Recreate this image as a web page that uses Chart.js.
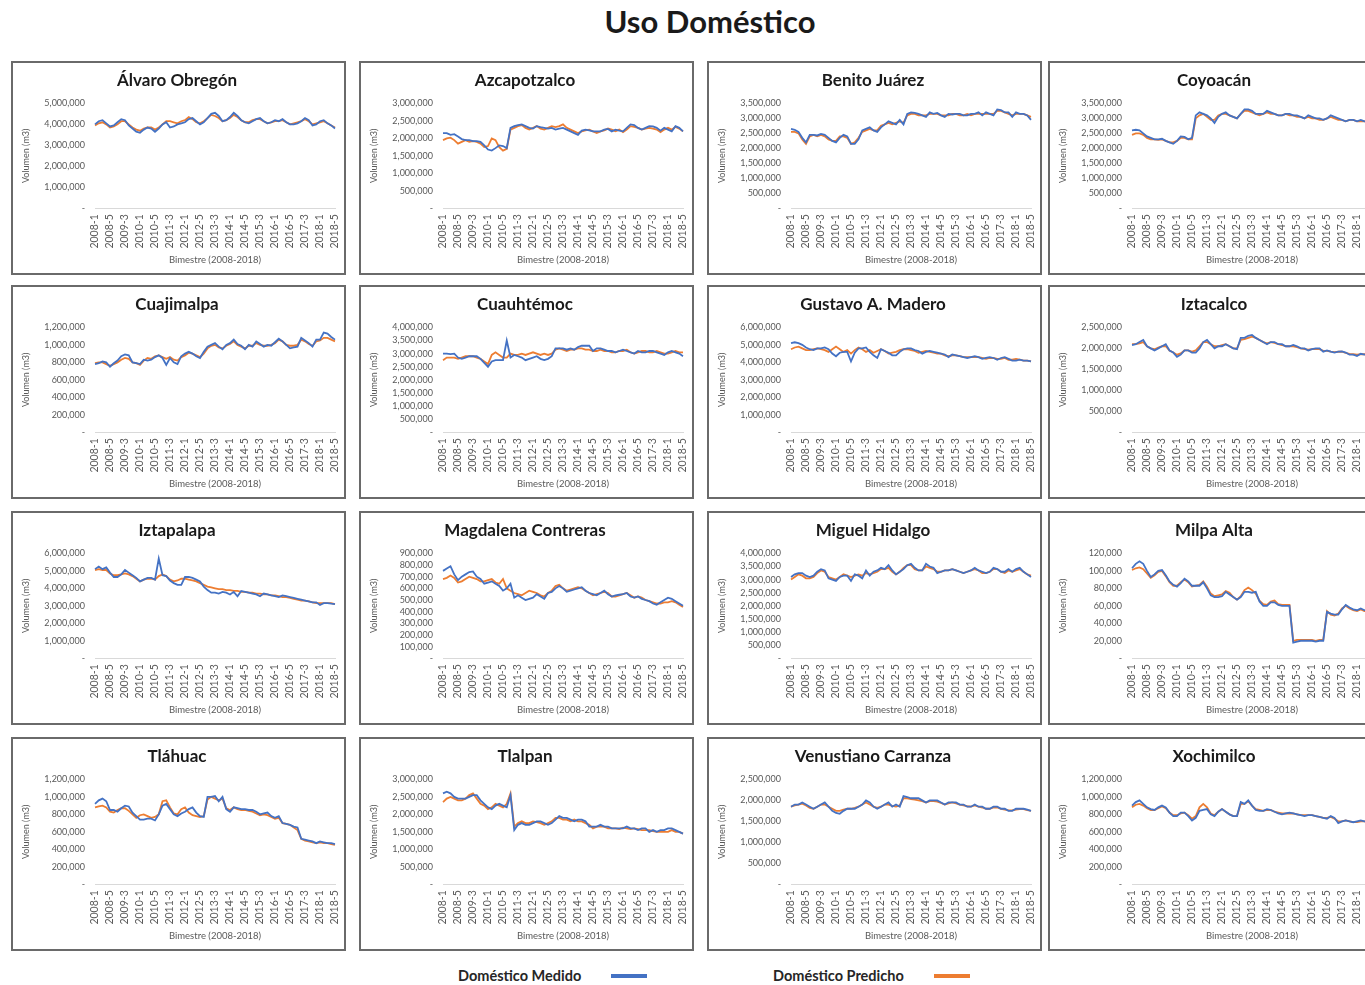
<!DOCTYPE html>
<html lang="es">
<head>
<meta charset="utf-8">
<title>Uso Doméstico</title>
<script src="https://cdn.jsdelivr.net/npm/chart.js@4.4.1/dist/chart.umd.min.js"></script>
<style>
  html, body { margin: 0; padding: 0; background: #fff; }
  body { width: 1365px; height: 985px; overflow: hidden; position: relative; font-family: Lato, "Liberation Sans", sans-serif; }
  #titulo { position: absolute; top: 3px; left: 0; width: 1420px; margin: 0; text-align: center; font-size: 31px; line-height: 36px; font-weight: 700; color: #1a1a1a; }
  .panel { position: absolute; width: 331px; height: 210px; border: 2px solid #6a6a6a; background: #fff; }
  .panel canvas { display: block; }
  .leyenda { position: absolute; top: 967px; font-size: 14.5px; line-height: 18px; font-weight: 700; color: #262626; }
  .muestra { position: absolute; top: 974px; width: 36px; height: 4px; }
</style>
</head>
<body>
<h1 id="titulo">Uso Doméstico</h1>
<div id="tablero"></div>
<div class="leyenda" style="left:458px;">Doméstico Medido</div>
<div class="muestra" style="left:611px;background:#4472C4;"></div>
<div class="leyenda" style="left:773px;">Doméstico Predicho</div>
<div class="muestra" style="left:934px;background:#ED7D31;"></div>

<script>
// Bimestres 2008-1 a 2018-5
const anios = [2008, 2009, 2010, 2011, 2012, 2013, 2014, 2015, 2016, 2017, 2018];
const bimestres = [1, 2, 3, 4, 5, 6];
const ultimoBimestre = '2018-5';

// Volúmenes de consumo doméstico por alcaldía, en miles de m3 (una fila por año)
const alvaroObregonMedido = [
  4000, 4150, 4200, 4050, 3900, 3950,
  4100, 4250, 4200, 3950, 3800, 3650,
  3600, 3750, 3850, 3800, 3650, 3800,
  4000, 4100, 3850, 3900, 4000, 4050,
  4100, 4250, 4300, 4150, 4000, 4100,
  4300, 4500, 4550, 4400, 4150, 4200,
  4350, 4550, 4400, 4200, 4100, 4050,
  4150, 4250, 4300, 4150, 4050, 4100,
  4200, 4150, 4250, 4100, 4000, 4000,
  4050, 4150, 4300, 4200, 3950, 4000,
  4150, 4200, 4050, 3950, 3800];
const alvaroObregonPredicho = [
  3950, 4050, 4100, 4000, 3850, 3900,
  4000, 4150, 4150, 4000, 3850, 3750,
  3700, 3800, 3850, 3850, 3750, 3850,
  4000, 4150, 4150, 4100, 4050, 4150,
  4200, 4350, 4250, 4100, 4050, 4150,
  4300, 4450, 4400, 4300, 4150, 4200,
  4300, 4450, 4350, 4200, 4100, 4100,
  4200, 4250, 4250, 4150, 4050, 4100,
  4150, 4150, 4200, 4100, 4000, 4050,
  4100, 4150, 4250, 4150, 4000, 4050,
  4100, 4150, 4050, 3950, 3850];

const azcapotzalcoMedido = [
  2150, 2150, 2100, 2120, 2050, 1980,
  1950, 1950, 1920, 1920, 1900, 1800,
  1680, 1650, 1720, 1800, 1780, 1720,
  2300, 2350, 2380, 2400, 2350, 2300,
  2280, 2350, 2320, 2300, 2280, 2300,
  2250, 2280, 2300, 2250, 2200, 2150,
  2100, 2220, 2250, 2230, 2200, 2200,
  2200, 2250, 2270, 2200, 2250, 2220,
  2200, 2300, 2400, 2380, 2300, 2250,
  2300, 2350, 2340, 2300, 2220, 2300,
  2250, 2200, 2350, 2300, 2200];
const azcapotzalcoPredicho = [
  1950, 2000, 2020, 1950, 1850, 1900,
  1950, 1900, 1920, 1900, 1850, 1750,
  1780, 2000, 1950, 1750, 1650, 1700,
  2250, 2300, 2350, 2380, 2300, 2250,
  2300, 2350, 2280, 2250, 2300, 2350,
  2320, 2350, 2400, 2300, 2250, 2200,
  2150, 2200, 2230, 2250, 2200, 2150,
  2200, 2230, 2280, 2250, 2200, 2250,
  2180, 2250, 2350, 2330, 2300, 2250,
  2280, 2300, 2280, 2250, 2180, 2250,
  2300, 2250, 2330, 2280, 2200];

const benitoJuarezMedido = [
  2650, 2620, 2550, 2350, 2200, 2450,
  2450, 2430, 2480, 2450, 2350, 2250,
  2200, 2350, 2450, 2400, 2150, 2150,
  2300, 2600, 2650, 2700, 2600, 2550,
  2700, 2800, 2900, 2850, 2800, 2950,
  2800, 3150, 3200, 3180, 3150, 3100,
  3050, 3200, 3150, 3180, 3100, 3050,
  3150, 3130, 3150, 3150, 3100, 3100,
  3150, 3150, 3200, 3100, 3200, 3150,
  3100, 3300, 3280, 3200, 3200, 3050,
  3200, 3150, 3150, 3100, 2950];
const benitoJuarezPredicho = [
  2550, 2550, 2500, 2300, 2150, 2400,
  2450, 2400, 2450, 2400, 2300, 2250,
  2250, 2400, 2400, 2350, 2150, 2200,
  2350, 2550, 2600, 2650, 2600, 2600,
  2750, 2800, 2850, 2800, 2850, 2900,
  2850, 3100, 3150, 3150, 3100, 3100,
  3100, 3150, 3150, 3150, 3100, 3100,
  3100, 3150, 3150, 3100, 3100, 3150,
  3100, 3150, 3150, 3150, 3150, 3150,
  3150, 3250, 3250, 3200, 3150, 3100,
  3150, 3150, 3150, 3100, 3050];

const coyoacanMedido = [
  2600, 2620, 2600, 2500, 2400, 2350,
  2300, 2300, 2320, 2250, 2200, 2150,
  2250, 2400, 2380, 2300, 2350, 3100,
  3200, 3150, 3100, 3000, 2850, 3050,
  3150, 3200, 3100, 3050, 3000, 3150,
  3300, 3300, 3250, 3150, 3150, 3150,
  3250, 3200, 3150, 3100, 3100, 3150,
  3150, 3100, 3100, 3050, 3000, 3100,
  3050, 3000, 3000, 2950, 3000, 3100,
  3050, 3000, 2950, 2900, 2950, 2950,
  2900, 2950, 2900, 2900, 2850];
const coyoacanPredicho = [
  2450, 2500, 2500, 2450, 2350, 2300,
  2300, 2280, 2300, 2250, 2200, 2200,
  2250, 2350, 2350, 2300, 2300, 3000,
  3100, 3150, 3050, 2950, 2950, 3100,
  3150, 3150, 3100, 3050, 3000, 3150,
  3250, 3250, 3200, 3150, 3100, 3150,
  3200, 3150, 3150, 3100, 3100, 3150,
  3100, 3100, 3050, 3050, 3000, 3050,
  3000, 3000, 2950, 2950, 3000, 3050,
  3000, 2950, 2950, 2900, 2950, 2950,
  2900, 2900, 2900, 2900, 2850];

const cuajimalpaMedido = [
  780, 790, 810, 800, 750, 790,
  820, 870, 890, 880, 800, 790,
  780, 830, 820, 830, 860, 880,
  850, 770, 850, 800, 780, 870,
  900, 920, 900, 870, 850, 920,
  980, 1000, 1020, 980, 950, 1000,
  1020, 1060, 1010, 990, 950, 1000,
  980, 1040, 1010, 980, 1000, 990,
  1030, 1070, 1040, 1000, 960, 970,
  980, 1080, 1050, 1020, 980, 1060,
  1060, 1140, 1130, 1090, 1060];
const cuajimalpaPredicho = [
  790, 800, 800, 780, 760, 780,
  800, 830, 850, 840, 800, 790,
  770, 820, 850, 840, 870, 880,
  860, 840, 860, 830, 820, 860,
  880, 910, 900, 880, 860, 900,
  960, 990, 1000, 970, 960, 990,
  1010, 1040, 1000, 980, 960, 990,
  990, 1020, 1000, 990, 990, 1000,
  1020, 1060, 1040, 1000, 990, 990,
  1000, 1060, 1040, 1010, 990, 1040,
  1050, 1080, 1080, 1060, 1040];

const cuauhtemocMedido = [
  3000, 3000, 2980, 3000, 2850, 2800,
  2850, 2900, 2900, 2900, 2800, 2650,
  2500, 2700, 2750, 2750, 2750, 3500,
  2850, 2950, 2900, 2850, 2750, 2800,
  2850, 2900, 2800, 2750, 2800, 2900,
  3200, 3200, 3200, 3150, 3200, 3150,
  3250, 3300, 3300, 3300, 3100, 3200,
  3200, 3150, 3100, 3100, 3050, 3100,
  3150, 3100, 3050, 3000, 3100, 3050,
  3050, 3100, 3100, 3050, 3000, 2950,
  3050, 3100, 3050, 3000, 2900];
const cuauhtemocPredicho = [
  2750, 2850, 2850, 2850, 2800, 2850,
  2900, 2900, 2900, 2850, 2800, 2700,
  2600, 2950, 3050, 2950, 2850, 2850,
  3000, 2950, 2950, 3000, 2950, 3000,
  3050, 3000, 2950, 3000, 2950, 3000,
  3150, 3200, 3150, 3100, 3150, 3150,
  3200, 3200, 3150, 3150, 3100, 3100,
  3150, 3100, 3100, 3050, 3050, 3100,
  3100, 3150, 3050, 3000, 3050, 3100,
  3100, 3050, 3050, 3100, 3050, 3000,
  3000, 3050, 3100, 3050, 3050];

const gustavoMaderoMedido = [
  5100, 5150, 5100, 5000, 4850, 4750,
  4700, 4800, 4800, 4850, 4750, 4500,
  4350, 4550, 4600, 4600, 4050, 4550,
  4800, 4800, 4850, 4600, 4400, 4250,
  4750, 4650, 4550, 4400, 4400, 4600,
  4750, 4800, 4800, 4700, 4650, 4500,
  4600, 4650, 4600, 4550, 4500, 4450,
  4300, 4450, 4400, 4350, 4300, 4250,
  4300, 4350, 4300, 4200, 4250, 4300,
  4250, 4150, 4250, 4300, 4200, 4100,
  4100, 4150, 4100, 4100, 4050];
const gustavoMaderoPredicho = [
  4750, 4850, 4900, 4800, 4700, 4700,
  4750, 4800, 4750, 4700, 4600, 4750,
  4900, 4750, 4600, 4700, 4500, 4700,
  4850, 4750, 4600, 4700, 4550, 4650,
  4750, 4650, 4500, 4550, 4600, 4700,
  4750, 4750, 4700, 4650, 4550, 4600,
  4650, 4600, 4550, 4500, 4500, 4400,
  4350, 4400, 4400, 4350, 4300, 4300,
  4300, 4300, 4300, 4250, 4200, 4250,
  4250, 4200, 4200, 4250, 4150, 4150,
  4200, 4150, 4100, 4100, 4050];

const iztacalcoMedido = [
  2080, 2100, 2150, 2200, 2050, 2000,
  1950, 2000, 2050, 2100, 1950, 1900,
  1800, 1850, 1950, 1950, 1900, 1900,
  2000, 2150, 2200, 2100, 2000, 2050,
  2050, 2100, 2050, 2000, 1980, 2250,
  2250, 2300, 2320, 2250, 2200, 2150,
  2100, 2150, 2150, 2100, 2100, 2050,
  2050, 2080, 2050, 2000, 2000, 1950,
  1980, 2000, 2000, 1920, 1950, 1920,
  1900, 1920, 1930, 1900, 1850, 1850,
  1820, 1870, 1850, 1880, 1850];
const iztacalcoPredicho = [
  2100, 2100, 2120, 2150, 2050, 2000,
  1980, 2020, 2050, 2050, 1950, 1900,
  1850, 1880, 1950, 1950, 1920, 1950,
  2050, 2150, 2150, 2100, 2050, 2050,
  2080, 2100, 2050, 2000, 2000, 2200,
  2220, 2250, 2280, 2250, 2200, 2150,
  2120, 2150, 2130, 2100, 2080, 2050,
  2050, 2050, 2030, 2000, 1980, 1970,
  1980, 1990, 1980, 1940, 1940, 1920,
  1910, 1920, 1920, 1890, 1870, 1860,
  1850, 1860, 1860, 1870, 1850];

const iztapalapaMedido = [
  5100, 5250, 5100, 5200, 4900, 4650,
  4650, 4800, 5050, 4900, 4750, 4600,
  4400, 4500, 4600, 4600, 4500, 5700,
  4750, 4700, 4450, 4300, 4200, 4200,
  4650, 4650, 4600, 4500, 4400, 4100,
  3900, 3750, 3750, 3700, 3800, 3750,
  3650, 3800, 3550, 3850, 3800, 3750,
  3700, 3650, 3550, 3700, 3650, 3600,
  3550, 3500, 3600, 3550, 3500, 3450,
  3400, 3350, 3300, 3250, 3200, 3200,
  3050, 3150, 3150, 3120, 3100];
const iztapalapaPredicho = [
  5050, 5100, 5050, 5050, 4850, 4750,
  4750, 4800, 4850, 4800, 4700, 4550,
  4400, 4500, 4550, 4550, 4500, 4700,
  4800, 4700, 4500, 4400, 4450, 4550,
  4550, 4500, 4450, 4400, 4300, 4200,
  4100, 4050, 4000, 3950, 3950, 3900,
  3900, 3850, 3850, 3800, 3800, 3750,
  3750, 3700, 3700, 3650, 3650, 3600,
  3600, 3550, 3500, 3500, 3450, 3400,
  3350, 3300, 3300, 3250, 3200, 3150,
  3150, 3150, 3150, 3150, 3100];

const magdalenaContrerasMedido = [
  750, 770, 790, 720, 670, 700,
  720, 740, 745, 700, 680, 640,
  650, 660, 640, 620, 580, 600,
  640, 520, 540, 520, 500, 510,
  520, 550, 530, 510, 560, 570,
  600, 620, 600, 570, 580, 590,
  600, 610, 580, 560, 550, 540,
  560, 580, 550, 530, 540, 545,
  550, 560, 530, 520, 530, 510,
  500, 490, 470, 460, 480, 500,
  520, 510, 490, 470, 450];
const magdalenaContrerasPredicho = [
  680, 690, 710, 690, 650, 660,
  680, 700, 690, 680, 660, 660,
  670, 680, 650, 640, 680, 600,
  580, 560, 550, 540, 560, 580,
  570, 560, 540, 530, 560, 580,
  620, 630, 600, 580, 590, 600,
  610, 600, 580, 560, 540, 550,
  560, 570, 560, 530, 530, 540,
  550, 560, 540, 520, 530, 520,
  500, 490, 480, 470, 470, 480,
  480, 490, 480, 460, 440];

const miguelHidalgoMedido = [
  3100, 3200, 3250, 3250, 3150, 3100,
  3150, 3300, 3400, 3350, 3050, 3000,
  2950, 3100, 3150, 3150, 2950, 3200,
  3150, 3050, 3350, 3150, 3300, 3350,
  3450, 3400, 3550, 3350, 3200, 3300,
  3400, 3550, 3600, 3450, 3350, 3350,
  3600, 3500, 3450, 3250, 3300, 3350,
  3350, 3400, 3350, 3300, 3250, 3300,
  3350, 3450, 3350, 3300, 3250, 3300,
  3450, 3400, 3300, 3300, 3400, 3300,
  3400, 3450, 3300, 3200, 3100];
const miguelHidalgoPredicho = [
  3000, 3100, 3200, 3150, 3050, 3050,
  3100, 3250, 3350, 3300, 3100, 3050,
  3000, 3100, 3200, 3150, 3100, 3150,
  3200, 3150, 3250, 3200, 3250, 3300,
  3400, 3400, 3450, 3300, 3200, 3300,
  3450, 3550, 3550, 3400, 3350, 3350,
  3500, 3450, 3400, 3300, 3300, 3350,
  3350, 3400, 3350, 3300, 3250, 3300,
  3350, 3400, 3350, 3250, 3250, 3300,
  3400, 3400, 3300, 3250, 3350, 3300,
  3350, 3400, 3300, 3200, 3150];

const milpaAltaMedido = [
  103, 108, 111, 108, 100, 93,
  96, 100, 101, 95, 88, 84,
  82, 86, 91, 88, 83, 83,
  83, 87, 80, 72, 70, 70,
  71, 76, 73, 70, 67, 70,
  76, 76, 75, 76, 65, 60,
  60, 64, 64, 61, 60, 60,
  60, 18, 19, 20, 20, 20,
  20, 19, 20, 20, 53, 51,
  50, 50, 56, 61, 58, 56,
  55, 57, 55, 54, 55];
const milpaAltaPredicho = [
  101, 103, 104, 102, 97, 92,
  95, 99, 100, 94, 87, 83,
  83, 87, 90, 87, 82, 83,
  84, 88, 82, 74, 71, 72,
  73, 77, 75, 70, 67, 71,
  78, 81, 78, 74, 66, 62,
  61, 65, 66, 62, 61, 61,
  61, 20, 21, 21, 21, 21,
  21, 20, 21, 21, 54, 50,
  49, 51, 57, 60, 57, 55,
  54, 56, 54, 54, 54];

const tlahuacMedido = [
  920, 960, 980, 950, 850, 850,
  830, 870, 900, 890, 820, 780,
  740, 740, 750, 750, 730, 800,
  900, 920, 860, 800, 780, 810,
  830, 860, 880, 820, 780, 770,
  1000, 1000, 1010, 950, 1000, 860,
  830, 880, 870, 860, 860, 850,
  850, 830, 800, 810, 820, 780,
  760, 780, 700, 690, 680, 660,
  650, 520, 510, 500, 490, 470,
  490, 480, 470, 470, 460];
const tlahuacPredicho = [
  880, 890, 900, 880, 830, 820,
  850, 870, 870, 840, 800, 760,
  790, 800, 780, 760, 770, 800,
  950, 960, 880, 810, 800, 860,
  880, 820, 790, 780, 770, 780,
  970, 1000, 980, 960, 980, 870,
  850, 880, 860, 850, 850, 840,
  830, 810, 790, 800, 790, 770,
  750, 760, 700, 690, 680, 650,
  620, 520, 500, 490, 480, 470,
  480, 470, 470, 460, 450];

const tlalpanMedido = [
  2600, 2650, 2600, 2500, 2450, 2450,
  2450, 2500, 2550, 2550, 2400, 2300,
  2200, 2150, 2250, 2300, 2250, 2200,
  2550, 1550, 1700, 1750, 1700, 1700,
  1750, 1800, 1800, 1750, 1700, 1750,
  1850, 1950, 1900, 1900, 1850, 1800,
  1850, 1850, 1800, 1650, 1650, 1650,
  1700, 1650, 1650, 1600, 1600, 1600,
  1600, 1650, 1600, 1600, 1550, 1600,
  1600, 1500, 1550, 1500, 1550, 1550,
  1600, 1600, 1550, 1500, 1450];
const tlalpanPredicho = [
  2350, 2450, 2500, 2450, 2400, 2400,
  2450, 2550, 2600, 2450, 2300, 2250,
  2150, 2200, 2300, 2250, 2200, 2300,
  2600, 1650, 1750, 1800, 1750, 1750,
  1800, 1780, 1750, 1700, 1750, 1800,
  1900, 1900, 1850, 1850, 1800, 1850,
  1800, 1800, 1750, 1700, 1600, 1650,
  1650, 1650, 1600, 1600, 1600, 1580,
  1620, 1600, 1580, 1600, 1580, 1550,
  1550, 1550, 1520, 1500, 1500, 1500,
  1500, 1550, 1500, 1500, 1450];

const venustianoCarranzaMedido = [
  1850, 1900, 1900, 1950, 1900, 1850,
  1800, 1850, 1900, 1950, 1850, 1750,
  1700, 1680, 1750, 1800, 1800, 1800,
  1850, 1900, 2000, 1950, 1850, 1800,
  1850, 1900, 1950, 1850, 1900, 1850,
  2100, 2080, 2050, 2050, 2050, 2000,
  1950, 2000, 2000, 2000, 1950, 1900,
  1950, 1950, 1950, 1900, 1900, 1850,
  1850, 1900, 1850, 1850, 1800, 1800,
  1850, 1850, 1800, 1800, 1750, 1750,
  1800, 1800, 1800, 1780, 1750];
const venustianoCarranzaPredicho = [
  1850, 1880, 1900, 1920, 1880, 1820,
  1800, 1850, 1900, 1900, 1850, 1800,
  1750, 1750, 1780, 1800, 1800, 1820,
  1850, 1900, 1950, 1900, 1850, 1820,
  1850, 1900, 1900, 1870, 1850, 1880,
  2050, 2050, 2030, 2020, 2000, 1980,
  1950, 1980, 1980, 1970, 1940, 1900,
  1930, 1950, 1930, 1900, 1880, 1860,
  1850, 1880, 1850, 1830, 1800, 1800,
  1830, 1830, 1800, 1780, 1760, 1760,
  1780, 1790, 1790, 1770, 1750];

const xochimilcoMedido = [
  900, 940, 960, 920, 880, 860,
  850, 880, 900, 880, 820, 780,
  780, 820, 820, 780, 730, 760,
  840, 850, 860, 800, 780, 830,
  860, 830, 800, 780, 780, 940,
  920, 960, 900, 850, 840, 840,
  860, 850, 830, 810, 800, 810,
  820, 810, 800, 790, 780, 790,
  790, 780, 770, 760, 750, 780,
  760, 700, 720, 730, 720, 710,
  720, 730, 720, 710, 700];
const xochimilcoPredicho = [
  880, 910, 920, 900, 870, 850,
  850, 870, 890, 870, 820, 790,
  790, 810, 820, 790, 750, 780,
  880, 920, 880, 810, 790, 830,
  860, 830, 800, 780, 780, 920,
  920, 950, 900, 860, 850, 840,
  850, 850, 830, 820, 810, 810,
  810, 810, 800, 790, 790, 790,
  790, 780, 770, 760, 760, 770,
  750, 720, 720, 730, 720, 710,
  710, 720, 720, 710, 700];

// Etiquetas de bimestre: 2008-1 ... 2018-5
const categorias = [];
anios.forEach(a => bimestres.forEach(b => categorias.push(a + '-' + b)));
categorias.length = categorias.indexOf(ultimoBimestre) + 1;

// Paneles: título, series, tope y paso del eje Y
const paneles = [
  { titulo: 'Álvaro Obregón', medido: alvaroObregonMedido, predicho: alvaroObregonPredicho, max: 5000000, paso: 1000000 },
  { titulo: 'Azcapotzalco', medido: azcapotzalcoMedido, predicho: azcapotzalcoPredicho, max: 3000000, paso: 500000 },
  { titulo: 'Benito Juárez', medido: benitoJuarezMedido, predicho: benitoJuarezPredicho, max: 3500000, paso: 500000 },
  { titulo: 'Coyoacán', medido: coyoacanMedido, predicho: coyoacanPredicho, max: 3500000, paso: 500000 },
  { titulo: 'Cuajimalpa', medido: cuajimalpaMedido, predicho: cuajimalpaPredicho, max: 1200000, paso: 200000 },
  { titulo: 'Cuauhtémoc', medido: cuauhtemocMedido, predicho: cuauhtemocPredicho, max: 4000000, paso: 500000 },
  { titulo: 'Gustavo A. Madero', medido: gustavoMaderoMedido, predicho: gustavoMaderoPredicho, max: 6000000, paso: 1000000 },
  { titulo: 'Iztacalco', medido: iztacalcoMedido, predicho: iztacalcoPredicho, max: 2500000, paso: 500000 },
  { titulo: 'Iztapalapa', medido: iztapalapaMedido, predicho: iztapalapaPredicho, max: 6000000, paso: 1000000 },
  { titulo: 'Magdalena Contreras', medido: magdalenaContrerasMedido, predicho: magdalenaContrerasPredicho, max: 900000, paso: 100000 },
  { titulo: 'Miguel Hidalgo', medido: miguelHidalgoMedido, predicho: miguelHidalgoPredicho, max: 4000000, paso: 500000 },
  { titulo: 'Milpa Alta', medido: milpaAltaMedido, predicho: milpaAltaPredicho, max: 120000, paso: 20000 },
  { titulo: 'Tláhuac', medido: tlahuacMedido, predicho: tlahuacPredicho, max: 1200000, paso: 200000 },
  { titulo: 'Tlalpan', medido: tlalpanMedido, predicho: tlalpanPredicho, max: 3000000, paso: 500000 },
  { titulo: 'Venustiano Carranza', medido: venustianoCarranzaMedido, predicho: venustianoCarranzaPredicho, max: 2500000, paso: 500000 },
  { titulo: 'Xochimilco', medido: xochimilcoMedido, predicho: xochimilcoPredicho, max: 1200000, paso: 200000 }
];

const columnasX = [11, 359, 707, 1048];
const filasY = [61, 285, 511, 737];
const AZUL = '#4472C4';
const NARANJA = '#ED7D31';
const GRIS = '#595959';
const FUENTE = 'Lato, "Liberation Sans", sans-serif';
const aM3 = v => v * 1000; // miles de m3 -> m3

const tablero = document.getElementById('tablero');

paneles.forEach((p, i) => {
  const caja = document.createElement('div');
  caja.className = 'panel';
  caja.style.left = columnasX[i % 4] + 'px';
  caja.style.top = filasY[Math.floor(i / 4)] + 'px';
  const lienzo = document.createElement('canvas');
  lienzo.width = 331;
  lienzo.height = 210;
  caja.appendChild(lienzo);
  tablero.appendChild(caja);

  new Chart(lienzo, {
    type: 'line',
    data: {
      labels: categorias,
      datasets: [
        { label: 'Doméstico Medido', data: p.medido.map(aM3), borderColor: AZUL, backgroundColor: AZUL, borderWidth: 1.8, pointRadius: 0, tension: 0 },
        { label: 'Doméstico Predicho', data: p.predicho.map(aM3), borderColor: NARANJA, backgroundColor: NARANJA, borderWidth: 1.8, pointRadius: 0, tension: 0 }
      ]
    },
    options: {
      responsive: false,
      animation: false,
      devicePixelRatio: 1,
      layout: { padding: { left: 6, right: 9, top: 0, bottom: 3 } },
      plugins: {
        legend: { display: false },
        tooltip: { enabled: false },
        title: {
          display: true,
          text: p.titulo,
          color: '#1a1a1a',
          font: { family: FUENTE, size: 17, weight: 'bold' },
          padding: { top: 7, bottom: 13 }
        }
      },
      scales: {
        x: {
          grid: { display: false, drawTicks: false },
          border: { display: true, color: '#d9d9d9', width: 1 },
          // el área de trazo llega hasta el último bimestre
          afterFit: escala => { escala.paddingRight = 0; },
          ticks: {
            autoSkip: false,
            minRotation: 90,
            maxRotation: 90,
            padding: 6,
            color: GRIS,
            font: { family: FUENTE, size: 10.5 },
            callback: function (valor, indice) {
              return indice % 4 === 0 ? this.getLabelForValue(valor) : '';
            }
          },
          title: {
            display: true,
            text: 'Bimestre (2008-2018)',
            color: GRIS,
            font: { family: FUENTE, size: 9.5 },
            padding: { top: 0, bottom: 4 }
          }
        },
        y: {
          min: 0,
          max: p.max,
          grid: { display: false, drawTicks: false },
          border: { display: false },
          afterFit: escala => { escala.width = 76; },
          ticks: {
            autoSkip: false,
            stepSize: p.paso,
            padding: 10,
            color: GRIS,
            font: { family: FUENTE, size: 9 },
            callback: v => v === 0 ? '-' : v.toLocaleString('en-US')
          },
          title: {
            display: true,
            text: 'Volumen (m3)',
            color: GRIS,
            font: { family: FUENTE, size: 9 },
            padding: { top: 2, bottom: 2 }
          }
        }
      }
    }
  });
});
</script>
</body>
</html>
